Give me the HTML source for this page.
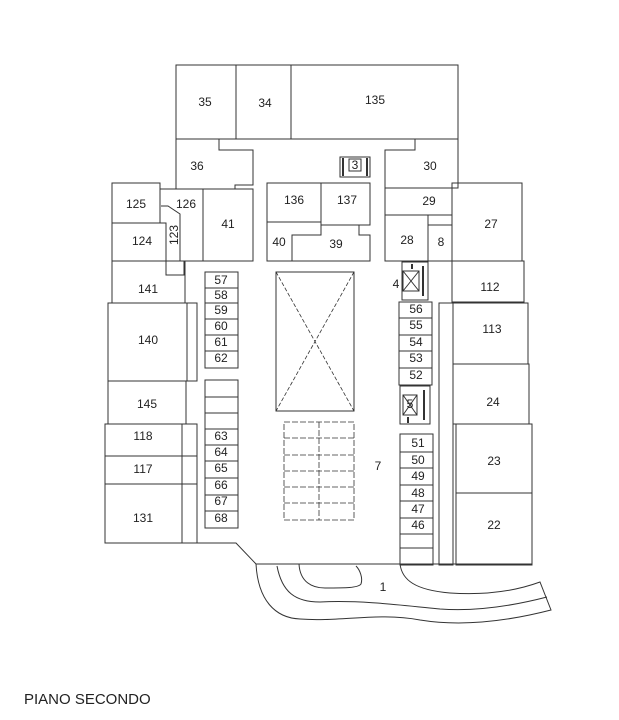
<!DOCTYPE html>
<html><head><style>body{margin:0;background:#fff}svg{display:block}text{font-family:"Liberation Sans",sans-serif;font-size:12px;fill:#222;stroke:none;text-anchor:middle;dominant-baseline:middle}</style></head><body>
<svg width="619" height="720" viewBox="0 0 619 720" fill="none" stroke="#333" stroke-width="1">
<rect x="176" y="65" width="282" height="74"/>
<line x1="236" y1="65" x2="236" y2="139"/><line x1="291" y1="65" x2="291" y2="139"/>
<text x="205" y="103">35</text><text x="265" y="104">34</text><text x="375" y="101">135</text>
<path d="M176 139 V189 H235 V185 H253 V150 H219 V139"/><text x="197" y="167">36</text>
<path d="M415 139 V150 H385 V188 H458 V139"/><text x="430" y="167">30</text>
<rect x="340" y="157" width="30" height="20"/><rect x="349" y="159" width="12" height="12" fill="#fff"/><text x="355" y="166">3</text>
<g stroke-width="2"><line x1="343" y1="158" x2="343" y2="176"/><line x1="367" y1="158" x2="367" y2="176"/></g>
<rect x="112" y="183" width="48" height="40"/><text x="136" y="205">125</text>
<path d="M160 183 V222 M176 183 V189 M160 189 H203"/>
<rect x="203" y="189" width="50" height="72"/><text x="228" y="225">41</text>
<text x="186" y="205">126</text>
<rect x="112" y="223" width="54" height="38"/><text x="142" y="242">124</text>
<path d="M161 206 H168 L180 214 V261 M166 223 V275 H184 V261"/>
<text x="175" y="235" transform="rotate(-90 175 235)">123</text>
<line x1="112" y1="261" x2="253" y2="261"/>
<rect x="112" y="261" width="73" height="42"/><text x="148" y="290">141</text>
<rect x="267" y="183" width="54" height="39"/><text x="294" y="201">136</text>
<rect x="321" y="183" width="49" height="42"/><text x="347" y="201">137</text>
<path d="M267 222 V261 H370 V235 H359 V225 M292 261 V235 H321 V222"/>
<text x="279" y="243">40</text><text x="336" y="245">39</text>
<rect x="385" y="188" width="67" height="27"/><text x="429" y="202">29</text>
<rect x="385" y="215" width="43" height="46"/><text x="407" y="241">28</text>
<rect x="428" y="225" width="24" height="36"/><text x="441" y="243">8</text>
<rect x="452" y="183" width="70" height="78"/><text x="491" y="225">27</text>
<rect x="452" y="261" width="72" height="41"/><text x="490" y="288">112</text>
<rect x="402" y="262" width="26" height="38"/><rect x="403" y="271" width="16" height="20"/>
<path d="M403 271 L419 291 M419 271 L403 291"/><text x="396" y="285">4</text>
<g stroke-width="2"><line x1="423" y1="266" x2="423" y2="296"/><line x1="412" y1="264" x2="412" y2="269"/></g>
<rect x="205" y="272" width="33" height="96"/>
<line x1="205" y1="288" x2="238" y2="288"/><line x1="205" y1="303" x2="238" y2="303"/><line x1="205" y1="319" x2="238" y2="319"/><line x1="205" y1="335" x2="238" y2="335"/><line x1="205" y1="351" x2="238" y2="351"/>
<text x="221" y="281">57</text><text x="221" y="296">58</text><text x="221" y="311">59</text><text x="221" y="327">60</text><text x="221" y="343">61</text><text x="221" y="359">62</text>
<rect x="205" y="380" width="33" height="148"/>
<line x1="205" y1="397" x2="238" y2="397"/><line x1="205" y1="413" x2="238" y2="413"/><line x1="205" y1="429" x2="238" y2="429"/><line x1="205" y1="445" x2="238" y2="445"/><line x1="205" y1="461" x2="238" y2="461"/><line x1="205" y1="478" x2="238" y2="478"/><line x1="205" y1="495" x2="238" y2="495"/><line x1="205" y1="511" x2="238" y2="511"/>
<text x="221" y="437">63</text><text x="221" y="453">64</text><text x="221" y="469">65</text><text x="221" y="486">66</text><text x="221" y="502">67</text><text x="221" y="519">68</text>
<rect x="399" y="302" width="33" height="83"/>
<line x1="399" y1="318" x2="432" y2="318"/><line x1="399" y1="335" x2="432" y2="335"/><line x1="399" y1="351" x2="432" y2="351"/><line x1="399" y1="368" x2="432" y2="368"/>
<text x="416" y="310">56</text><text x="416" y="326">55</text><text x="416" y="343">54</text><text x="416" y="359">53</text><text x="416" y="376">52</text>
<rect x="400" y="386" width="30" height="38"/><rect x="403" y="395" width="14" height="20"/>
<path d="M403 395 L417 415 M417 395 L403 415"/><text x="410" y="405">5</text>
<g stroke-width="2"><line x1="424" y1="390" x2="424" y2="420"/><line x1="408" y1="417" x2="408" y2="423"/></g>
<rect x="400" y="434" width="33" height="131"/>
<line x1="400" y1="452" x2="433" y2="452"/><line x1="400" y1="468" x2="433" y2="468"/><line x1="400" y1="485" x2="433" y2="485"/><line x1="400" y1="501" x2="433" y2="501"/><line x1="400" y1="518" x2="433" y2="518"/><line x1="400" y1="534" x2="433" y2="534"/><line x1="400" y1="548" x2="433" y2="548"/>
<text x="418" y="444">51</text><text x="418" y="461">50</text><text x="418" y="477">49</text><text x="418" y="494">48</text><text x="418" y="510">47</text><text x="418" y="526">46</text>
<rect x="439" y="303" width="14" height="262"/>
<rect x="453" y="303" width="75" height="61"/><text x="492" y="330">113</text>
<rect x="453" y="364" width="76" height="60"/><text x="493" y="403">24</text>
<rect x="456" y="424" width="76" height="69"/><text x="494" y="462">23</text>
<rect x="456" y="493" width="76" height="72"/><text x="494" y="526">22</text>
<rect x="108" y="303" width="79" height="78"/><path d="M187 303 H197 V381 H187"/><text x="148" y="341">140</text>
<rect x="108" y="381" width="78" height="43"/><text x="147" y="405">145</text>
<rect x="105" y="424" width="92" height="119"/>
<line x1="182" y1="424" x2="182" y2="543"/><line x1="105" y1="456" x2="197" y2="456"/><line x1="105" y1="484" x2="197" y2="484"/>
<text x="143" y="437">118</text><text x="143" y="470">117</text><text x="143" y="519">131</text>
<rect x="276" y="272" width="78" height="139"/>
<path d="M276 272 L354 411 M354 272 L276 411" stroke-dasharray="4 2" stroke-width="0.8"/>
<g stroke-dasharray="6 2" stroke-width="0.8">
<rect x="284" y="422" width="70" height="98"/><line x1="319" y1="422" x2="319" y2="520"/>
<line x1="284" y1="438" x2="354" y2="438"/><line x1="284" y1="455" x2="354" y2="455"/><line x1="284" y1="471" x2="354" y2="471"/><line x1="284" y1="487" x2="354" y2="487"/><line x1="284" y1="503" x2="354" y2="503"/>
</g>
<text x="378" y="467">7</text>
<path d="M105 543 H236 L256 564 H532"/>
<path d="M256 564 C258 600 275 618 300 619 C340 622 380 612 420 620 C470 628 520 618 551 610 L540 582 C510 593 480 595 450 593 C415 590 402 580 400 564"/>
<path d="M277 566 C282 592 295 602 320 602 C360 600 400 605 440 609 C480 612 520 604 547 597"/>
<path d="M299 564 C300 582 312 588 325 588 C345 588 358 588 361 584 C363 578 360 570 356 566"/>
<text x="383" y="588">1</text>
<text x="24" y="700" style="text-anchor:start;font-size:15px">PIANO SECONDO</text>
</svg>
</body></html>
